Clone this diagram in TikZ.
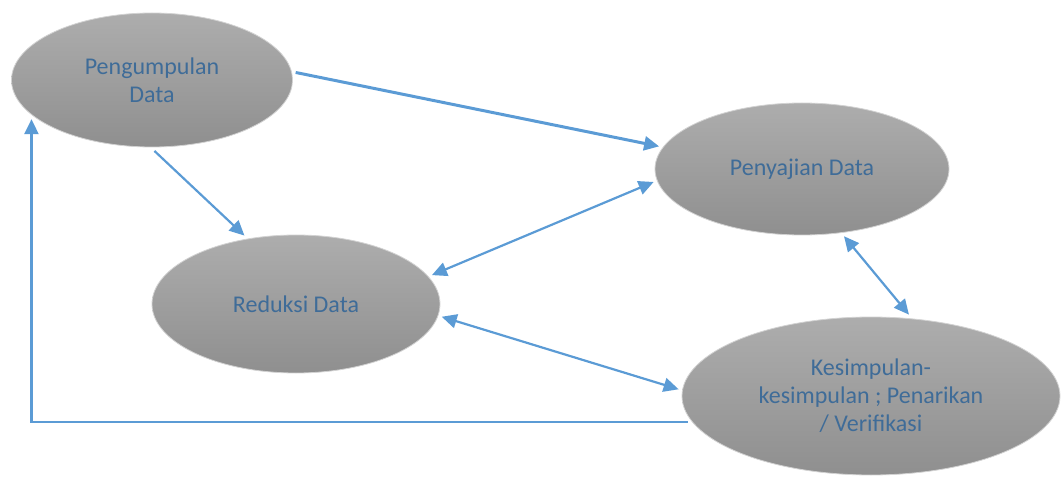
\documentclass[tikz,border=0pt]{standalone}
\usepackage{fontspec}
\setmainfont{Carlito}
\usetikzlibrary{shapes.geometric,arrows.meta}
\definecolor{panah}{HTML}{5B9BD5}
\definecolor{teks}{HTML}{3F6C98}
\definecolor{abuatas}{HTML}{ADADAD}
\definecolor{abubawah}{HTML}{8F8F8F}
\begin{document}
\begin{tikzpicture}[x=1pt,y=-1pt]
%\draw[help lines] (0,0) grid[step=50pt] (1063,481);
\useasboundingbox (0,0) rectangle (1063,481);
\tikzstyle{tahap}=[ellipse,top color=abuatas,bottom color=abubawah,draw=gray!35,line width=0.8pt,inner sep=0pt,outer sep=4pt,text=teks,font=\fontsize{24}{28}\selectfont,align=center]
\tikzstyle{alur} = [draw=panah,line width=2.2pt,-{Triangle[length=15pt,width=14pt]}]
\tikzstyle{duaarah} = [draw=panah,line width=2.2pt,{Triangle[length=15pt,width=14pt]}-{Triangle[length=15pt,width=14pt]}]

\draw (152,80) node[tahap,minimum width=281pt,minimum height=134pt] (pengumpulan) {Pengumpulan\\Data};
\draw (296,304) node[tahap,minimum width=288pt,minimum height=138pt] (reduksi) {Reduksi Data};
\draw (802,169) node[tahap,minimum width=294pt,minimum height=132pt] (penyajian) {Penyajian Data};
\draw (871,396) node[tahap,minimum width=378pt,minimum height=158pt] (kesimpulan) {Kesimpulan-\\kesimpulan ; Penarikan\\/ Verifikasi};

\draw[alur,line width=3pt] (pengumpulan.3) -- (penyajian.171);
\draw[alur] (pengumpulan.-88) -- (reduksi.127);
\draw[duaarah] (penyajian.185) -- (reduksi.12);
\draw[duaarah] (penyajian.-58) -- (kesimpulan.65);
\draw[duaarah] (reduksi.-5) -- (kesimpulan.178);
\draw[alur] (kesimpulan.188) -| (pengumpulan.198);
\end{tikzpicture}
\end{document}
